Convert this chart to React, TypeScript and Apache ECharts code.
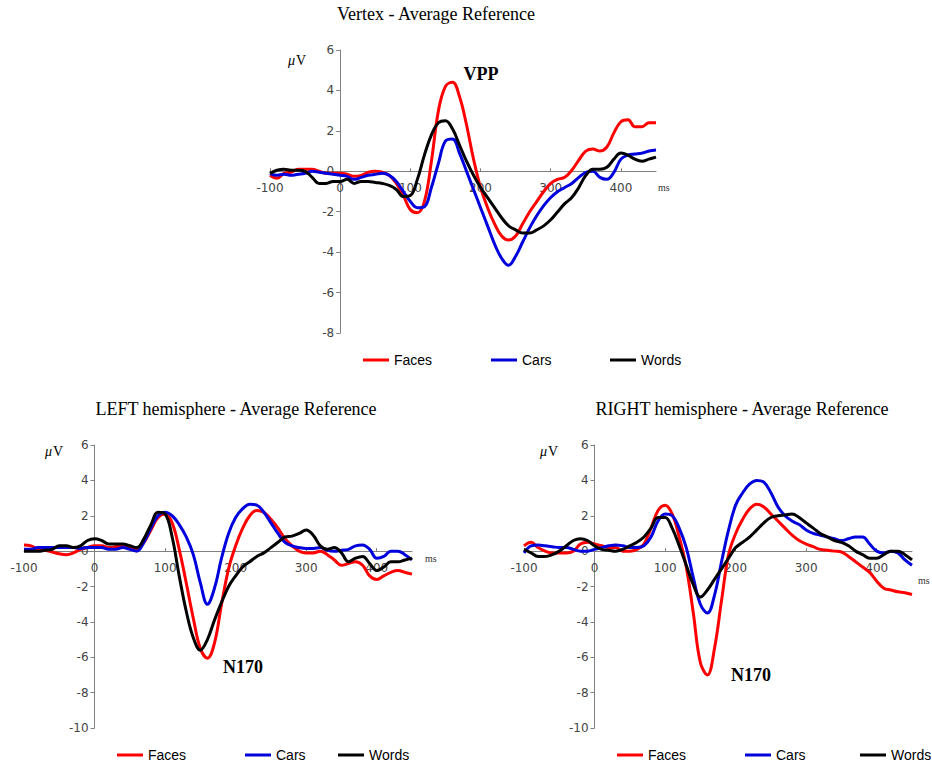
import React, { useEffect, useRef } from "react";
import * as echarts from "echarts";

// time points (ms)
const TIMES = [
  -100, -90, -80, -70, -60, -50, -40, -30, -20, -10,
  0, 10, 20, 30, 40, 50, 60, 70, 80, 90,
  100, 110, 120, 130, 140, 150, 160, 170, 180, 190,
  200, 210, 220, 230, 240, 250, 260, 270, 280, 290,
  300, 310, 320, 330, 340, 350, 360, 370, 380, 390,
  400, 410, 420, 430, 440, 450,
];
const X_MIN = -100;
const X_MAX = 450;

const SERIES_NAMES = ["Faces", "Cars", "Words"];
const SERIES_COLORS = ["#ff0000", "#0000dd", "#000000"];

const PANEL_TITLES = [
  "Vertex - Average Reference",
  "LEFT hemisphere - Average Reference",
  "RIGHT hemisphere - Average Reference",
];
const PANEL_Y_MIN = [-8, -10, -10];
const PANEL_Y_MAX = [6, 6, 6];
const PEAK_LABELS = ["VPP", "N170", "N170"];

// Vertex
const VERTEX_FACES = [
  -0.2, -0.35, -0.1, -0.05, 0.1, 0.1, 0.1, 0.0, -0.1, -0.1,
  -0.1, -0.15, -0.25, -0.2, -0.05, 0.0, -0.05, -0.2, -0.6, -1.2,
  -1.9, -2.05, -1.5, 0.5, 3.0, 4.2, 4.4, 3.7, 2.3, 0.6,
  -0.8, -1.8, -2.6, -3.2, -3.4, -3.2, -2.6, -2.0, -1.5, -1.0,
  -0.6, -0.4, -0.3, 0.05, 0.55, 1.0, 1.1, 1.0, 1.2, 1.9,
  2.45, 2.55, 2.2, 2.2, 2.4, 2.4,
];
const VERTEX_CARS = [
  -0.1, -0.2, -0.15, -0.2, -0.15, -0.1, 0.0, -0.05, -0.1, -0.15,
  -0.2, -0.25, -0.4, -0.3, -0.2, -0.15, -0.1, -0.2, -0.5, -1.0,
  -1.5, -1.8, -1.75, -0.8, 0.4, 1.5, 1.6, 0.9, 0.0, -0.9,
  -1.8, -2.7, -3.6, -4.3, -4.65, -4.2, -3.5, -2.8, -2.2, -1.7,
  -1.3, -1.0, -0.8, -0.6, -0.3, -0.05, 0.0, -0.3, -0.4, -0.05,
  0.6, 0.8, 0.85, 0.9, 1.0, 1.05,
];
const VERTEX_WORDS = [
  -0.1, 0.05, 0.1, 0.05, 0.05, 0.0, -0.3, -0.6, -0.6, -0.5,
  -0.5, -0.4, -0.6, -0.5, -0.5, -0.55, -0.6, -0.7, -0.9, -1.25,
  -1.2, -0.4, 0.8, 1.8, 2.4, 2.5, 2.1, 1.3, 0.5, -0.2,
  -0.8, -1.3, -1.8, -2.3, -2.7, -2.9, -3.05, -3.05, -2.9, -2.7,
  -2.4, -2.0, -1.6, -1.3, -0.8, -0.2, 0.1, 0.1, 0.2, 0.6,
  0.9, 0.8, 0.6, 0.5, 0.6, 0.7,
];

// Left hemisphere
const LEFT_FACES = [
  0.35, 0.3, 0.1, 0.05, -0.05, -0.15, -0.2, -0.1, 0.1, 0.2,
  0.3, 0.3, 0.2, 0.25, 0.3, 0.2, 0.1, 0.5, 1.2, 1.9,
  2.1, 1.6, 0.1, -1.8, -3.8, -5.5, -6.05, -5.2, -3.0, -1.0,
  0.3, 1.3, 2.0, 2.3, 2.2, 1.8, 1.3, 0.7, 0.3, 0.0,
  -0.1, -0.1, 0.0, -0.2, -0.5, -0.8, -0.7, -0.6, -0.8, -1.4,
  -1.6, -1.4, -1.2, -1.1, -1.2, -1.3,
];
const LEFT_CARS = [
  0.1, 0.1, 0.2, 0.2, 0.2, 0.2, 0.2, 0.2, 0.15, 0.2,
  0.2, 0.2, 0.1, 0.1, 0.2, 0.1, 0.0, 0.5, 1.3, 2.0,
  2.2, 2.0, 1.5, 0.8, -0.2, -1.8, -3.0, -2.1, -0.4, 1.0,
  1.9, 2.4, 2.65, 2.6, 2.2, 1.6, 1.0, 0.5, 0.3, 0.2,
  0.15, 0.15, 0.2, 0.05, 0.0, 0.05, 0.1, 0.3, 0.35, 0.1,
  -0.4, -0.3, 0.0, 0.0, -0.2, -0.5,
];
const LEFT_WORDS = [
  0.0, 0.0, 0.0, 0.05, 0.1, 0.3, 0.3, 0.2, 0.3, 0.6,
  0.7, 0.6, 0.4, 0.4, 0.4, 0.3, 0.2, 0.7, 1.5, 2.2,
  2.1, 0.8, -1.4, -3.4, -4.9, -5.6, -5.0, -3.9, -2.9, -2.0,
  -1.4, -0.9, -0.6, -0.3, -0.1, 0.2, 0.5, 0.8, 0.85, 1.0,
  1.2, 0.9, 0.3, 0.1, 0.2, -0.1, -0.6, -0.4, -0.3, -0.7,
  -1.1, -0.9, -0.6, -0.6, -0.5, -0.4,
];

// Right hemisphere
const RIGHT_FACES = [
  0.3, 0.5, 0.2, 0.0, -0.1, -0.1, -0.1, 0.0, 0.4, 0.5,
  0.4, 0.3, 0.2, 0.2, 0.0, 0.0, 0.1, 0.4, 1.3, 2.3,
  2.6, 2.1, 0.8, -0.9, -3.5, -6.3, -7.0, -5.5, -2.8, -0.2,
  1.0, 1.8, 2.4, 2.65, 2.5, 2.1, 1.7, 1.3, 0.9, 0.6,
  0.4, 0.25, 0.1, 0.05, 0.0, -0.05, -0.3, -0.6, -0.9, -1.2,
  -1.7, -2.1, -2.2, -2.3, -2.35, -2.45,
];
const RIGHT_CARS = [
  -0.1, 0.3, 0.35, 0.3, 0.25, 0.2, 0.2, 0.1, 0.0, 0.0,
  0.1, 0.2, 0.3, 0.35, 0.3, 0.2, 0.2, 0.3, 0.8, 1.7,
  2.1, 2.0, 1.3, 0.2, -1.5, -3.0, -3.5, -2.5, -0.6, 1.2,
  2.6, 3.3, 3.8, 4.0, 3.9, 3.3, 2.5, 2.0, 1.7, 1.5,
  1.2, 1.0, 0.9, 0.8, 0.7, 0.6, 0.7, 0.8, 0.8, 0.4,
  0.0, -0.1, 0.0, -0.1, -0.5, -0.8,
];
const RIGHT_WORDS = [
  0.1, -0.1, -0.3, -0.3, -0.2, 0.0, 0.3, 0.6, 0.7, 0.6,
  0.3, 0.1, 0.05, 0.0, 0.1, 0.3, 0.5, 0.8, 1.3, 1.9,
  1.9, 1.3, 0.3, -0.8, -1.9, -2.6, -2.2, -1.6, -1.0, -0.4,
  0.2, 0.5, 0.8, 1.2, 1.6, 1.9, 2.0, 2.05, 2.1, 1.9,
  1.6, 1.3, 1.0, 0.8, 0.6, 0.5, 0.3, 0.0, -0.2, -0.4,
  -0.4, -0.2, 0.0, 0.0, -0.2, -0.5,
];

const PANEL_DATA = [
  [VERTEX_FACES, VERTEX_CARS, VERTEX_WORDS],
  [LEFT_FACES, LEFT_CARS, LEFT_WORDS],
  [RIGHT_FACES, RIGHT_CARS, RIGHT_WORDS],
];

export default function App() {
  const ref = useRef<HTMLDivElement>(null);

  useEffect(() => {
    if (!ref.current) return;
    const chart = echarts.init(ref.current, null, { renderer: "svg" });

    const grids = [
      { left: 270, top: 50, width: 386, height: 283 },
      { left: 24, top: 445, width: 388, height: 283 },
      { left: 524, top: 445, width: 388, height: 283 },
    ];
    const titlePos = [
      { x: 436, y: 5 },
      { x: 236, y: 400 },
      { x: 742, y: 400 },
    ];
    const legendPos = [
      { xs: [363, 491, 610], y: 353 },
      { xs: [117, 245, 338], y: 748 },
      { xs: [617, 745, 860], y: 748 },
    ];
    const muPos = [
      { x: 288, y: 60 },
      { x: 45, y: 451 },
      { x: 540, y: 451 },
    ];
    const msPos = [
      { x: 658, y: 187 },
      { x: 425, y: 558 },
      { x: 918, y: 580 },
    ];
    const peakPos = [
      { x: 481, y: 74 },
      { x: 243, y: 667 },
      { x: 751, y: 675 },
    ];

    const axisColor = "#808080";
    const labelFont = { fontFamily: "DejaVu Sans", fontSize: 12, color: "#444" };

    // axes crossing at the origin (x = 0 ms, y = 0 µV)
    const xAxes = grids.map((g, i) => {
      const ymin = PANEL_Y_MIN[i];
      const ymax = PANEL_Y_MAX[i];
      const fromBottom = ((0 - ymin) / (ymax - ymin)) * g.height;
      return {
        type: "value",
        gridIndex: i,
        position: "bottom",
        offset: -fromBottom,
        min: X_MIN,
        max: X_MAX,
        interval: 100,
        axisLine: { show: true, onZero: false, lineStyle: { color: axisColor, width: 1 } },
        axisTick: { show: true, inside: true, length: 3, lineStyle: { color: axisColor } },
        axisLabel: { ...labelFont, margin: 11, showMaxLabel: false },
        splitLine: { show: false },
      };
    });
    const yAxes = grids.map((g, i) => {
      const fromLeft = ((0 - X_MIN) / (X_MAX - X_MIN)) * g.width;
      return {
        type: "value",
        gridIndex: i,
        position: "left",
        offset: -fromLeft,
        min: PANEL_Y_MIN[i],
        max: PANEL_Y_MAX[i],
        interval: 2,
        axisLine: { show: true, onZero: false, lineStyle: { color: axisColor, width: 1 } },
        axisTick: { show: true, length: 4, lineStyle: { color: axisColor } },
        axisLabel: { ...labelFont, margin: 6 },
        splitLine: { show: false },
      };
    });

    const series: any[] = [];
    PANEL_DATA.forEach((panel, i) => {
      panel.forEach((vals, j) => {
        series.push({
          type: "line",
          name: SERIES_NAMES[j],
          xAxisIndex: i,
          yAxisIndex: i,
          data: TIMES.map((t, k) => [t, vals[k]]),
          showSymbol: false,
          smooth: 0.4,
          lineStyle: { width: 3, color: SERIES_COLORS[j] },
          itemStyle: { color: SERIES_COLORS[j] },
        });
      });
    });

    const legends: any[] = [];
    legendPos.forEach((lp) => {
      SERIES_NAMES.forEach((name, j) => {
        legends.push({
          data: [{ name, icon: "rect" }],
          left: lp.xs[j],
          top: lp.y,
          padding: 0,
          itemWidth: 26,
          itemHeight: 3,
          selectedMode: false,
          textStyle: { fontFamily: "Liberation Sans", fontSize: 14, color: "#000" },
        });
      });
    });

    const titles = PANEL_TITLES.map((text, i) => ({
      text,
      left: titlePos[i].x,
      top: titlePos[i].y,
      textAlign: "center",
      padding: 0,
      textStyle: {
        fontFamily: "Liberation Serif",
        fontSize: 18,
        fontWeight: "normal",
        color: "#000",
      },
    }));

    const graphics: any[] = [];
    grids.forEach((_, i) => {
      graphics.push({
        type: "text",
        x: muPos[i].x,
        y: muPos[i].y,
        style: {
          text: "μ",
          font: 'italic 14px "Liberation Serif"',
          fill: "#000",
          textVerticalAlign: "middle",
        },
      });
      graphics.push({
        type: "text",
        x: muPos[i].x + 8,
        y: muPos[i].y,
        style: {
          text: "V",
          font: '14px "Liberation Serif"',
          fill: "#000",
          textVerticalAlign: "middle",
        },
      });
      graphics.push({
        type: "text",
        x: msPos[i].x,
        y: msPos[i].y,
        style: {
          text: "ms",
          font: '10px "Liberation Serif"',
          fill: "#333",
          textVerticalAlign: "middle",
        },
      });
      graphics.push({
        type: "text",
        x: peakPos[i].x,
        y: peakPos[i].y,
        style: {
          text: PEAK_LABELS[i],
          font: 'bold 18px "Liberation Serif"',
          fill: "#000",
          textAlign: "center",
          textVerticalAlign: "middle",
        },
      });
    });

    chart.setOption({
      animation: false,
      backgroundColor: "#ffffff",
      title: titles,
      legend: legends,
      grid: grids,
      xAxis: xAxes,
      yAxis: yAxes,
      series,
      graphic: graphics,
    });

    return () => chart.dispose();
  }, []);

  return (
    <div
      ref={ref}
      style={{ position: "fixed", left: 0, top: 0, width: 932, height: 765, background: "#fff" }}
    />
  );
}
